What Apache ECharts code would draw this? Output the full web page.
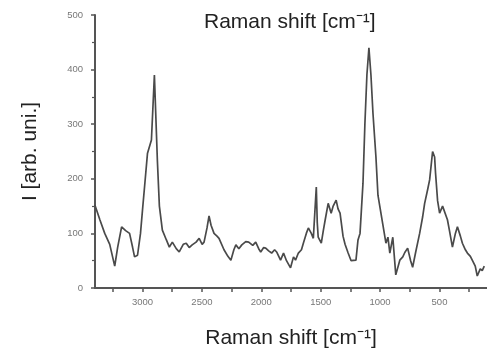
<!DOCTYPE html>
<html><head><meta charset="utf-8">
<script src="https://cdn.jsdelivr.net/npm/echarts@6/dist/echarts.min.js"></script>
<style>html,body{margin:0;padding:0;background:#fff}#c{width:487px;height:355px}</style>
</head><body><div id="c"></div>
<script>
const wavenumber = [3401,3359,3318,3276,3234,3209,3176,3142,3109,3084,3067,3042,3017,3000,2983,2958,2925,2900,2875,2858,2833,2799,2774,2749,2716,2691,2657,2632,2607,2582,2549,2523,2498,2482,2457,2440,2423,2398,2373,2356,2314,2281,2256,2231,2214,2189,2164,2131,2106,2072,2047,2022,2005,1980,1963,1938,1913,1888,1871,1838,1813,1788,1754,1729,1712,1688,1662,1646,1621,1604,1579,1562,1546,1537,1529,1521,1495,1478,1462,1437,1412,1395,1370,1354,1337,1312,1295,1269,1244,1228,1203,1186,1169,1144,1128,1111,1094,1077,1060,1035,1018,1002,976,951,934,918,893,868,834,809,792,768,743,726,701,667,642,625,600,583,558,541,533,516,499,474,458,433,416,391,366,349,324,307,282,265,240,224,199,182,157,140,123];
const intensity = [152,125,100,80,40,75,112,105,100,75,57,60,100,143,185,247,271,390,234,150,106,88,75,84,72,66,80,82,74,79,84,91,80,84,110,132,115,100,95,91,70,58,51,70,79,72,79,85,84,78,84,72,66,74,73,68,64,70,66,51,64,50,37,57,51,64,70,82,100,110,100,91,93,185,120,93,82,105,125,155,137,150,161,145,137,95,80,64,50,48,51,88,100,192,300,390,440,390,320,240,170,149,115,82,93,64,93,24,51,57,65,73,50,38,65,100,130,155,180,198,250,240,210,160,137,150,149,125,105,75,100,112,95,82,70,64,58,51,40,22,35,32,40];
const xLabelValues = [3000,2500,2000,1500,1000,500];
const xTickValues = [3250,3000,2750,2500,2250,2000,1750,1500,1250,1000,750,500,250];
const yTicks = [0,100,200,300,400,500];

const points = wavenumber.map((w,i)=>[w,intensity[i]]);
const chart = echarts.init(document.getElementById('c'),null,{renderer:'canvas'});
const axisColor = '#555';
chart.setOption({
  animation:false,
  backgroundColor:'#fff',
  title:{text:'Raman shift [cm\u207B\u00B9]',left:199,top:7,
    textStyle:{fontFamily:'Liberation Sans',fontSize:21,fontWeight:'normal',color:'#222'}},
  grid:{left:95,right:-3,top:15,bottom:67},
  xAxis:{type:'value',inverse:true,min:100,max:3400,
    name:'Raman shift [cm\u207B\u00B9]',nameLocation:'middle',nameGap:40,
    nameTextStyle:{fontFamily:'Liberation Sans',fontSize:21,color:'#222'},
    axisLine:{show:true,lineStyle:{color:axisColor,width:2}},
    axisTick:{show:true,length:4,inside:false,customValues:xTickValues,lineStyle:{color:axisColor,width:1.5}},
    axisLabel:{customValues:xLabelValues,margin:9,fontSize:9.5,color:'#777',fontFamily:'Liberation Sans',
      formatter:v=>String(v)},
    splitLine:{show:false}},
  yAxis:{type:'value',min:yTicks[0],max:yTicks[yTicks.length-1],interval:100,
    name:'I [arb. uni.]',nameLocation:'middle',nameGap:54,nameRotate:90,
    nameTextStyle:{fontFamily:'Liberation Sans',fontSize:21,color:'#222'},
    axisLine:{show:true,lineStyle:{color:axisColor,width:2}},
    axisTick:{show:true,length:4,lineStyle:{color:axisColor,width:1.5}},
    minorTick:{show:true,splitNumber:2,length:3,lineStyle:{color:axisColor,width:1.2}},
    axisLabel:{margin:12,fontSize:9.5,color:'#777',fontFamily:'Liberation Sans',formatter:v=>String(v)},
    splitLine:{show:false}},
  series:[{type:'line',data:points,showSymbol:false,symbol:'none',
    lineStyle:{color:'#4a4a4a',width:1.7},clip:true}]
});
</script></body></html>
